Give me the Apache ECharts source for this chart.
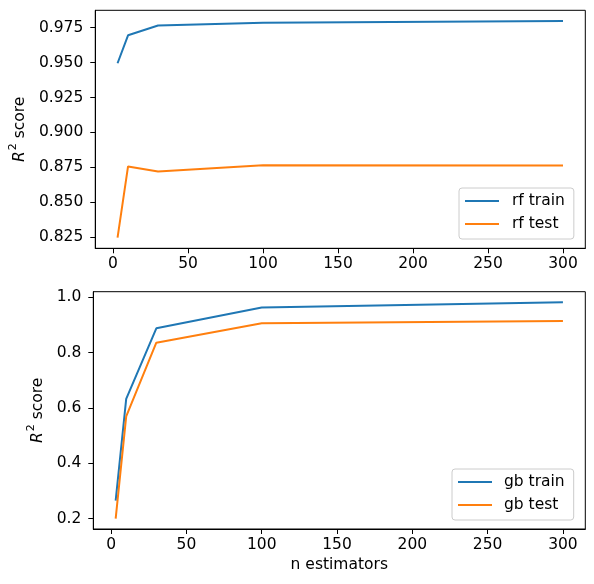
<!DOCTYPE html>
<html>
<head>
<meta charset="utf-8">
<script src="https://cdn.jsdelivr.net/npm/echarts@6/dist/echarts.min.js"></script>
<style>html,body{margin:0;padding:0;background:#fff;}#c{width:594px;height:584px;}</style>
</head>
<body>
<div id="c"></div>
<script>
var nEstimators = [3, 10, 30, 100, 300];
var rfTrain = [0.9495, 0.9695, 0.9765, 0.9785, 0.9797];
var rfTest = [0.8248, 0.8757, 0.8720, 0.8766, 0.8764];
var gbTrain = [0.265, 0.633, 0.888, 0.963, 0.982];
var gbTest = [0.200, 0.570, 0.836, 0.906, 0.914];
var xTicks = [0, 50, 100, 150, 200, 250, 300];
var rfTicks = [0.825, 0.850, 0.875, 0.900, 0.925, 0.950, 0.975];
var gbTicks = [0.2, 0.4, 0.6, 0.8, 1.0];

var FONT = 'DejaVu Sans';
var FS = 15.5;
var BLUE = '#1f77b4', ORANGE = '#ff7f0e';

function pairs(xs, ys) { return xs.map(function (x, i) { return [x, ys[i]]; }); }

function xAxis(idx, withName) {
  return {
    type: 'value', gridIndex: idx, min: -11.85, max: 314.85,
    name: withName ? 'n estimators' : '', nameLocation: 'middle', nameGap: 28,
    nameTextStyle: { fontFamily: FONT, fontSize: FS, color: '#000' },
    axisLine: { show: true, onZero: false, lineStyle: { color: '#000', width: 1 } },
    axisTick: { show: true, inside: false, length: 5, customValues: xTicks, lineStyle: { color: '#000', width: 1 } },
    axisLabel: { show: true, customValues: xTicks, margin: 8, fontFamily: FONT, fontSize: FS, color: '#000' },
    splitLine: { show: false }
  };
}
function yAxis(idx, mn, mx, ticks, dec, gap) {
  return {
    type: 'value', gridIndex: idx, min: mn, max: mx,
    name: '{r|R}{s|2}{t| score}', nameLocation: 'middle', nameGap: gap, nameRotate: 90,
    nameTextStyle: { fontFamily: FONT, fontSize: FS, color: '#000',
      rich: {
        r: { fontFamily: FONT, fontSize: FS, fontStyle: 'italic', color: '#000', verticalAlign: 'bottom', lineHeight: 20 },
        s: { fontFamily: FONT, fontSize: 11, color: '#000', verticalAlign: 'top', lineHeight: 20, padding: [0, 0, 0, 1] },
        t: { fontFamily: FONT, fontSize: FS, color: '#000', verticalAlign: 'bottom', lineHeight: 20 }
      } },
    axisLine: { show: true, onZero: false, lineStyle: { color: '#000', width: 1 } },
    axisTick: { show: true, inside: false, length: 5, customValues: ticks, lineStyle: { color: '#000', width: 1 } },
    axisLabel: { show: true, customValues: ticks, margin: 12, fontFamily: FONT, fontSize: FS, color: '#000',
      formatter: function (v) { return v.toFixed(dec); } },
    splitLine: { show: false }
  };
}
function line(name, idx, ys, color) {
  return {
    name: name, type: 'line', xAxisIndex: idx, yAxisIndex: idx,
    data: pairs(nEstimators, ys), symbol: 'none', smooth: false,
    lineStyle: { color: color, width: 2 }, itemStyle: { color: color },
    animation: false
  };
}
function legend(names, left, top, padLeft, textPad) {
  return {
    data: names, orient: 'vertical', left: left, top: top,
    icon: 'rect', itemWidth: 34, itemHeight: 2, itemGap: 7,
    padding: [5, 9, 7, padLeft],
    backgroundColor: 'rgba(255,255,255,0.8)', borderColor: '#cccccc', borderWidth: 1, borderRadius: 3,
    textStyle: { fontFamily: FONT, fontSize: FS, color: '#000', padding: [0, 0, 0, textPad] }
  };
}

var chart = echarts.init(document.getElementById('c'));
chart.setOption({
  backgroundColor: '#fff',
  animation: false,
  grid: [
    { left: 93.3, right: 8.7, top: 10.3, height: 238, show: true, borderColor: '#000', borderWidth: 1, containLabel: false },
    { left: 93.3, right: 8.7, top: 291.7, height: 237.3, show: true, borderColor: '#000', borderWidth: 1, containLabel: false }
  ],
  xAxis: [xAxis(0, false), xAxis(1, true)],
  yAxis: [
    yAxis(0, 0.8171, 0.9874, rfTicks, 3, 65),
    yAxis(1, 0.1628, 1.0203, gbTicks, 1, 43)
  ],
  legend: [
    legend(['rf train', 'rf test'], 459, 188, 6, 8),
    legend(['gb train', 'gb test'], 452, 469, 6, 7)
  ],
  series: [
    line('rf train', 0, rfTrain, BLUE),
    line('rf test', 0, rfTest, ORANGE),
    line('gb train', 1, gbTrain, BLUE),
    line('gb test', 1, gbTest, ORANGE)
  ]
});
</script>
</body>
</html>
